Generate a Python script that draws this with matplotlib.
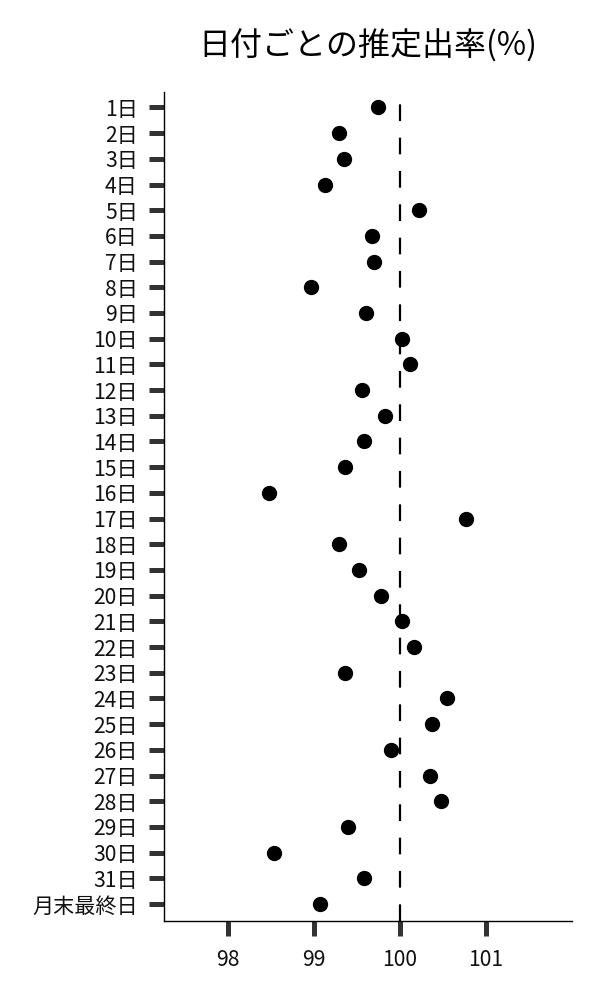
import matplotlib
matplotlib.use("Agg")
import matplotlib.pyplot as plt

plt.rcParams["font.family"] = ["Noto Sans CJK JP", "DejaVu Sans"]

# --- data ---
day_labels = [f"{d}日" for d in range(1, 32)] + ["月末最終日"]
rates = [
    99.75, 99.29, 99.35, 99.13, 100.22, 99.68, 99.70, 98.97,
    99.60, 100.02, 100.12, 99.56, 99.83, 99.58, 99.36, 98.48,
    100.77, 99.29, 99.53, 99.78, 100.02, 100.16, 99.36, 100.55,
    100.37, 99.90, 100.35, 100.48, 99.40, 98.54, 99.58, 99.07,
]
reference_rate = 100
x_ticks = [98, 99, 100, 101]

fig = plt.figure(figsize=(6, 10), dpi=100)
ax = fig.add_axes([0.2725, 0.079, 0.953 - 0.2725, 0.908 - 0.079])

positions = list(range(len(day_labels)))
ax.plot(rates, positions, "o", color="black", markersize=10, linestyle="none")
ax.axvline(reference_rate, color="black", linewidth=1.6, linestyle=(0, (7.5, 7.5)))

ax.set_yticks(positions)
ax.set_yticklabels(day_labels)
ax.set_xticks(x_ticks)
ax.set_xlim(97.25, 102.0)
ax.set_ylim(31.66, -0.6)

for side in ["top", "right"]:
    ax.spines[side].set_visible(False)
for side in ["left", "bottom"]:
    ax.spines[side].set_linewidth(1.0)
    ax.spines[side].set_color("black")

ax.tick_params(axis="both", length=10.5, width=3.6, color="#333333",
               labelsize=15.2, labelcolor="#111111")
ax.tick_params(axis="y", pad=8)
ax.tick_params(axis="x", pad=10)

ax.set_title("日付ごとの推定出率(%)", fontsize=23, pad=26)

fig.savefig("out.png", dpi=100)
plt.close(fig)
